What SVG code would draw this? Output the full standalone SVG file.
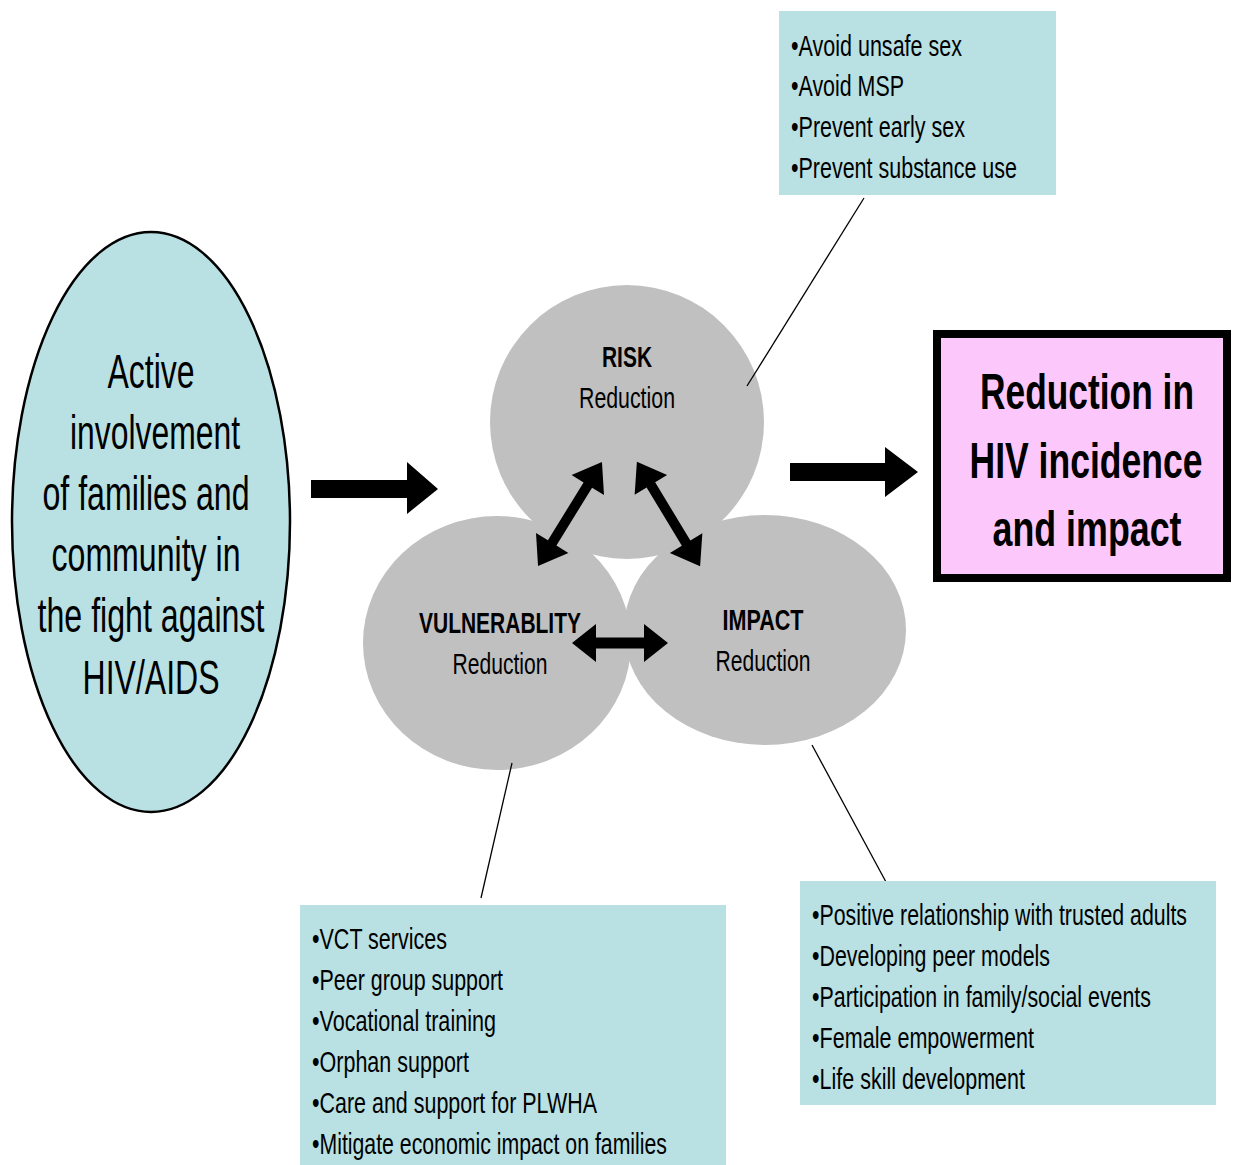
<svg xmlns="http://www.w3.org/2000/svg" width="1233" height="1165" viewBox="0 0 1233 1165">
<style>
text{font-family:"Liberation Sans",Arial,sans-serif;fill:#000}
.b{font-size:30px}
.e{font-size:48px;text-anchor:middle}
.c{font-size:30px;text-anchor:middle}
.cb{font-size:30px;font-weight:bold;text-anchor:middle}
.p{font-size:50px;font-weight:bold;text-anchor:middle}
.box{fill:#b9e0e2}
.circ{fill:#c0c0c0}
.lead{stroke:#000;stroke-width:1.3;fill:none}
</style>
<defs>
<polygon id="dbl" points="-48,0 -24,-19 -24,-5.5 24,-5.5 24,-19 48,0 24,19 24,5.5 -24,5.5 -24,19"/>
<polygon id="dbl2" points="-61,0 -34,-19 -34,-5 34,-5 34,-19 61,0 34,19 34,5 -34,5 -34,19"/>
</defs>

<g id="circles">
<g id="impact-node"><ellipse class="circ" cx="765" cy="630" rx="141" ry="115"/></g>
<g id="vulnerability-node"><ellipse class="circ" cx="497" cy="643" rx="134" ry="127"/></g>
<g id="risk-node"><circle class="circ" cx="627" cy="422" r="137"/></g>
</g>

<g id="connectors">
<line class="lead" x1="864" y1="198" x2="747" y2="386"/>
<line class="lead" x1="512" y1="763" x2="481" y2="898"/>
<line class="lead" x1="812" y1="745" x2="886" y2="882"/>
<polygon points="311,480 407,480 407,462 438,489 407,514 407,498 311,498"/>
<polygon points="790,463 885,463 885,447 918,472 885,497 885,481 790,481"/>
<use href="#dbl" transform="translate(620,643)"/>
<use href="#dbl2" transform="translate(570,514) rotate(-58.4)"/>
<use href="#dbl2" transform="translate(668.5,514) rotate(58.8)"/>
</g>

<g id="circle-labels">
<text class="cb" transform="translate(627,367) scale(0.8,1)" textLength="62.5" lengthAdjust="spacingAndGlyphs">RISK</text>
<text class="c" transform="translate(627,408) scale(0.8,1)" textLength="120" lengthAdjust="spacingAndGlyphs">Reduction</text>
<text class="cb" transform="translate(500,633) scale(0.8,1)" textLength="202.5" lengthAdjust="spacingAndGlyphs">VULNERABLITY</text>
<text class="c" transform="translate(500,674) scale(0.8,1)" textLength="118.75" lengthAdjust="spacingAndGlyphs">Reduction</text>
<text class="cb" transform="translate(763,630) scale(0.8,1)" textLength="101.25" lengthAdjust="spacingAndGlyphs">IMPACT</text>
<text class="c" transform="translate(763,671) scale(0.8,1)" textLength="118.75" lengthAdjust="spacingAndGlyphs">Reduction</text>
</g>

<g id="families-node">
<ellipse cx="151" cy="522" rx="139" ry="290" fill="#b9e0e2" stroke="#000" stroke-width="2.5"/>
<text class="e" transform="translate(151,388) scale(0.8,1)" textLength="108.75" lengthAdjust="spacingAndGlyphs">Active</text>
<text class="e" transform="translate(155,449) scale(0.8,1)" textLength="212.5" lengthAdjust="spacingAndGlyphs">involvement</text>
<text class="e" transform="translate(146,510) scale(0.8,1)" textLength="258.75" lengthAdjust="spacingAndGlyphs">of families and</text>
<text class="e" transform="translate(146,571) scale(0.8,1)" textLength="236.25" lengthAdjust="spacingAndGlyphs">community in</text>
<text class="e" transform="translate(151,632) scale(0.8,1)" textLength="283.75" lengthAdjust="spacingAndGlyphs">the fight against</text>
<text class="e" transform="translate(151,694) scale(0.8,1)" textLength="171.25" lengthAdjust="spacingAndGlyphs">HIV/AIDS</text>
</g>

<g id="outcome-node">
<rect x="937" y="334" width="290" height="244" fill="#fcc8fc" stroke="#000" stroke-width="8"/>
<text class="p" transform="translate(1087,409) scale(0.8,1)" textLength="267.5" lengthAdjust="spacingAndGlyphs">Reduction in</text>
<text class="p" transform="translate(1086,478) scale(0.8,1)" textLength="291.25" lengthAdjust="spacingAndGlyphs">HIV incidence</text>
<text class="p" transform="translate(1087,546) scale(0.8,1)" textLength="236.25" lengthAdjust="spacingAndGlyphs">and impact</text>
</g>

<g id="risk-box">
<rect class="box" x="779" y="11" width="277" height="184"/>
<text class="b" transform="translate(791,56) scale(0.8,1)" textLength="213.75" lengthAdjust="spacingAndGlyphs">•Avoid unsafe sex</text>
<text class="b" transform="translate(791,96) scale(0.8,1)" textLength="141.25" lengthAdjust="spacingAndGlyphs">•Avoid MSP</text>
<text class="b" transform="translate(791,137) scale(0.8,1)" textLength="217.5" lengthAdjust="spacingAndGlyphs">•Prevent early sex</text>
<text class="b" transform="translate(791,178) scale(0.8,1)" textLength="282.5" lengthAdjust="spacingAndGlyphs">•Prevent substance use</text>
</g>

<g id="vulnerability-box">
<rect class="box" x="300" y="905" width="426" height="260"/>
<text class="b" transform="translate(312,949) scale(0.8,1)" textLength="168.75" lengthAdjust="spacingAndGlyphs">•VCT services</text>
<text class="b" transform="translate(312,990) scale(0.8,1)" textLength="238.75" lengthAdjust="spacingAndGlyphs">•Peer group support</text>
<text class="b" transform="translate(312,1031) scale(0.8,1)" textLength="230" lengthAdjust="spacingAndGlyphs">•Vocational training</text>
<text class="b" transform="translate(312,1072) scale(0.8,1)" textLength="196.25" lengthAdjust="spacingAndGlyphs">•Orphan support</text>
<text class="b" transform="translate(312,1113) scale(0.8,1)" textLength="356.25" lengthAdjust="spacingAndGlyphs">•Care and support for PLWHA</text>
<text class="b" transform="translate(312,1154) scale(0.8,1)" textLength="443.75" lengthAdjust="spacingAndGlyphs">•Mitigate economic impact on families</text>
</g>

<g id="impact-box">
<rect class="box" x="800" y="881" width="416" height="224"/>
<text class="b" transform="translate(812,925) scale(0.8,1)" textLength="468.75" lengthAdjust="spacingAndGlyphs">•Positive relationship with trusted adults</text>
<text class="b" transform="translate(812,966) scale(0.8,1)" textLength="297.5" lengthAdjust="spacingAndGlyphs">•Developing peer models</text>
<text class="b" transform="translate(812,1007) scale(0.8,1)" textLength="423.75" lengthAdjust="spacingAndGlyphs">•Participation in family/social events</text>
<text class="b" transform="translate(812,1048) scale(0.8,1)" textLength="277.5" lengthAdjust="spacingAndGlyphs">•Female empowerment</text>
<text class="b" transform="translate(812,1089) scale(0.8,1)" textLength="266.25" lengthAdjust="spacingAndGlyphs">•Life skill development</text>
</g>
</svg>
